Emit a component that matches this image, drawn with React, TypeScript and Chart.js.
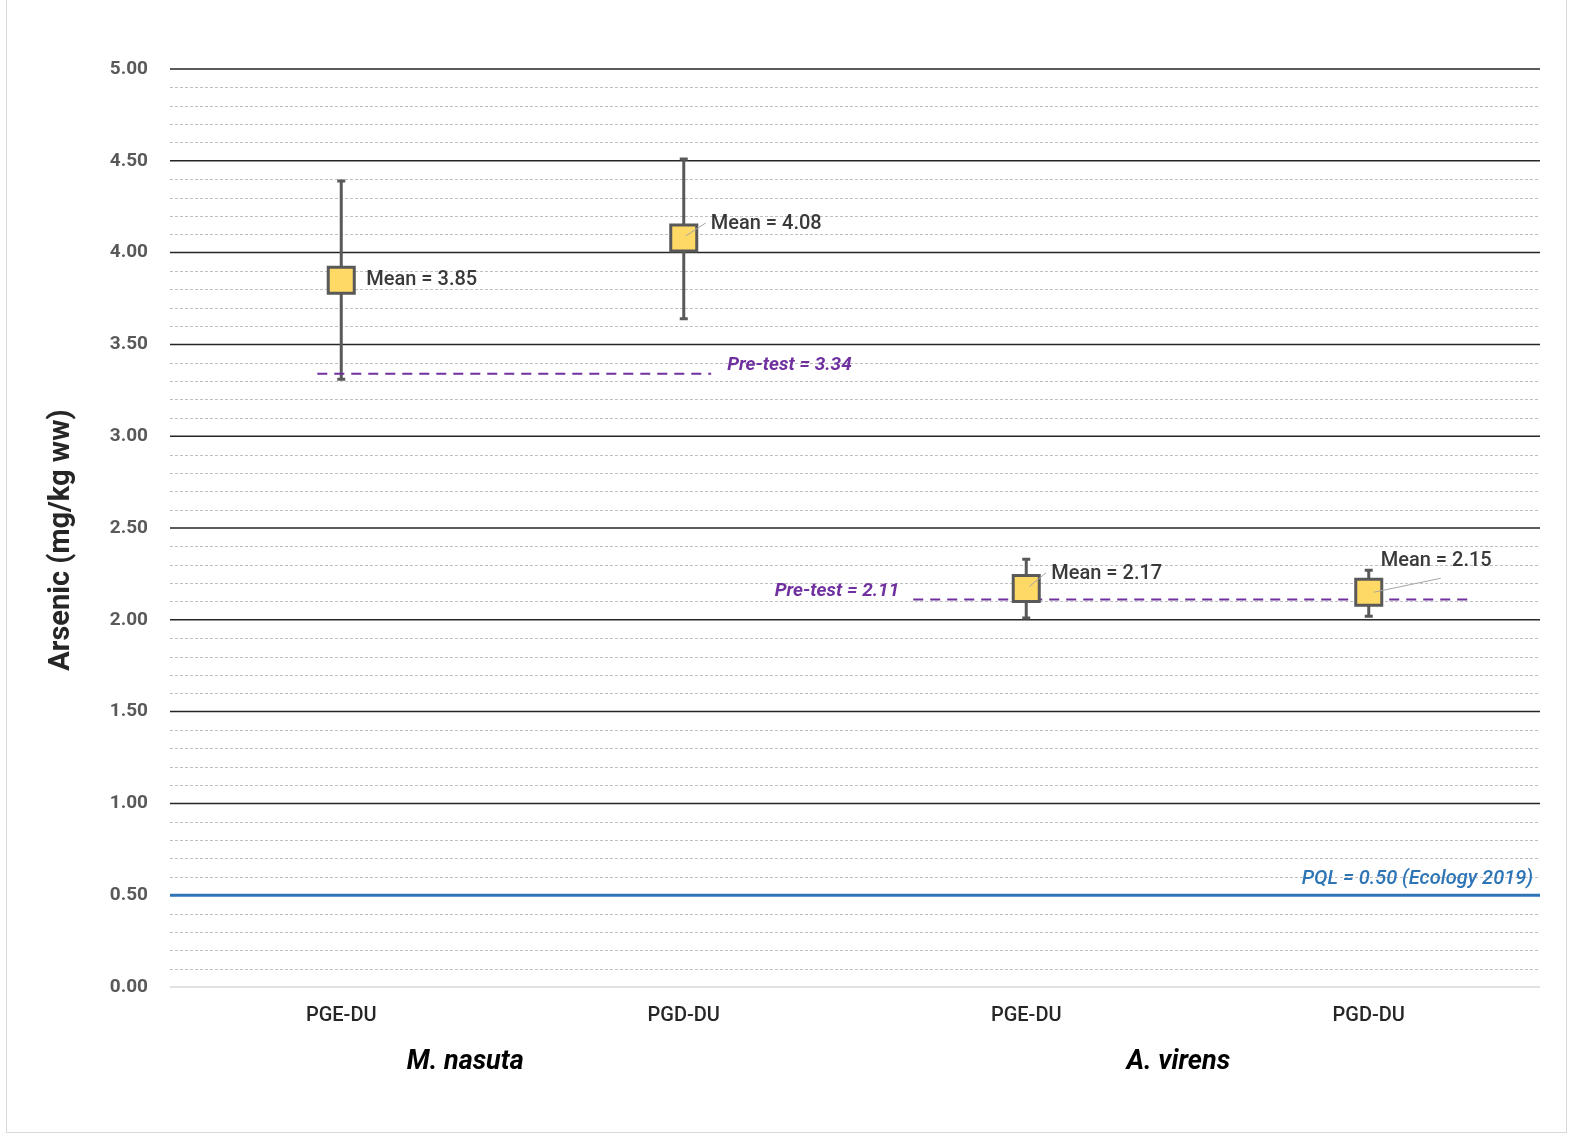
import React, { useEffect, useRef } from "react";
import { Chart, registerables } from "chart.js";

Chart.register(...registerables);

// ---- data ----
const categories = ["PGE-DU", "PGD-DU", "PGE-DU", "PGD-DU"];
const speciesGroups = ["M. nasuta", "A. virens"];
const meanValues = [3.85, 4.08, 2.17, 2.15];
const errorLow = [3.31, 3.64, 2.01, 2.02];
const errorHigh = [4.39, 4.51, 2.33, 2.27];
const pretestValues = [3.34, 2.11];
const pqlValue = 0.5;
const yTickValues = [0, 0.5, 1, 1.5, 2, 2.5, 3, 3.5, 4, 4.5, 5];
const minorStep = 0.1;
const yAxisTitle = "Arsenic (mg/kg ww)";

// ---- layout helpers (category-axis units / pixel offsets) ----
const pretestSpans = [
  [-0.07, 1.08],
  [1.67, 3.29],
];
const speciesLabelX = [0.362, 2.444];
const meanLabelLayout = [
  { dx: 25, dy: 0, leader: null as null | number[][] },
  { dx: 27, dy: -14, leader: [[2, -2], [22, -15]] },
  { dx: 25, dy: -15, leader: [[3, -2], [20, -16]] },
  { dx: 12, dy: -31, leader: [[5, 0], [72, -14]] },
];

const FONT = "Roboto, 'Noto Sans', sans-serif";
const PURPLE = "#7030A0";
const BLUE = "#2E75B6";

const decorPlugin = {
  id: "decor",
  beforeDraw(chart: any) {
    const ctx = chart.ctx;
    ctx.save();
    ctx.fillStyle = "#ffffff";
    ctx.fillRect(0, 0, chart.width, chart.height);
    ctx.strokeStyle = "#d9d9d9";
    ctx.lineWidth = 1;
    ctx.strokeRect(6.5, -1, 1560, 1133.5);
    ctx.restore();
  },
  beforeDatasetsDraw(chart: any) {
    const { ctx, chartArea, scales } = chart;
    const { left, right, top, bottom } = chartArea;
    const y = scales.y;
    const x = scales.x;
    ctx.save();
    // y-axis title
    ctx.fillStyle = "#262626";
    ctx.font = `bold 29px ${FONT}`;
    ctx.textAlign = "center";
    ctx.textBaseline = "middle";
    ctx.translate(62, (top + bottom) / 2 + 12);
    ctx.rotate(-Math.PI / 2);
    ctx.fillText(yAxisTitle, 0, 0);
    ctx.setTransform(1, 0, 0, 1, 0, 0);
    // minor dashed gridlines every 0.1
    ctx.setLineDash([3, 2]);
    ctx.strokeStyle = "#bfbfbf";
    ctx.lineWidth = 1;
    for (let i = 1; i < 50; i++) {
      if (i % 5 === 0) continue;
      const py = Math.round(y.getPixelForValue(i * minorStep)) + 0.5;
      ctx.beginPath();
      ctx.moveTo(left, py);
      ctx.lineTo(right, py);
      ctx.stroke();
    }
    // major gridlines
    ctx.setLineDash([]);
    yTickValues.forEach((v) => {
      const py = y.getPixelForValue(v);
      ctx.strokeStyle = v === 0 ? "#d9d9d9" : "#262626";
      ctx.lineWidth = 1.5;
      ctx.beginPath();
      ctx.moveTo(left, py);
      ctx.lineTo(right, py);
      ctx.stroke();
    });
    // error bars
    ctx.strokeStyle = "#595959";
    ctx.lineWidth = 3;
    meanValues.forEach((_, i) => {
      const px = x.getPixelForValue(i);
      const t = y.getPixelForValue(errorHigh[i]);
      const b = y.getPixelForValue(errorLow[i]);
      ctx.beginPath();
      ctx.moveTo(px, t);
      ctx.lineTo(px, b);
      ctx.moveTo(px - 4, t);
      ctx.lineTo(px + 4, t);
      ctx.moveTo(px - 4, b);
      ctx.lineTo(px + 4, b);
      ctx.stroke();
    });
    ctx.restore();
  },
  afterDatasetsDraw(chart: any) {
    const { ctx, chartArea, scales } = chart;
    const y = scales.y;
    const x = scales.x;
    ctx.save();
    // mean labels with leader lines
    meanValues.forEach((v, i) => {
      const px = x.getPixelForValue(i);
      const py = y.getPixelForValue(v);
      const lay = meanLabelLayout[i];
      if (lay.leader) {
        ctx.strokeStyle = "#a6a6a6";
        ctx.lineWidth = 1;
        ctx.beginPath();
        ctx.moveTo(px + lay.leader[0][0], py + lay.leader[0][1]);
        ctx.lineTo(px + lay.leader[1][0], py + lay.leader[1][1]);
        ctx.stroke();
      }
      ctx.fillStyle = "#3a3a3a";
      ctx.font = `500 20px ${FONT}`;
      ctx.textAlign = "left";
      ctx.textBaseline = "middle";
      ctx.fillText(`Mean = ${v.toFixed(2)}`, px + lay.dx, py + lay.dy);
    });
    // pre-test labels
    ctx.fillStyle = PURPLE;
    ctx.font = `italic bold 19px ${FONT}`;
    ctx.textBaseline = "middle";
    ctx.textAlign = "left";
    ctx.fillText(
      `Pre-test = ${pretestValues[0].toFixed(2)}`,
      x.getPixelForValue(pretestSpans[0][1]) + 16,
      y.getPixelForValue(pretestValues[0]) - 9
    );
    ctx.textAlign = "right";
    ctx.fillText(
      `Pre-test = ${pretestValues[1].toFixed(2)}`,
      x.getPixelForValue(pretestSpans[1][0]) - 14,
      y.getPixelForValue(pretestValues[1]) - 8
    );
    // PQL label
    ctx.fillStyle = BLUE;
    ctx.font = `italic 500 20px ${FONT}`;
    ctx.textAlign = "right";
    ctx.fillText(
      `PQL = ${pqlValue.toFixed(2)} (Ecology 2019)`,
      chartArea.right - 7,
      y.getPixelForValue(pqlValue) - 16
    );
    // species group labels
    ctx.fillStyle = "#000000";
    ctx.font = `italic bold 27px ${FONT}`;
    ctx.textAlign = "center";
    speciesGroups.forEach((g, i) => {
      ctx.fillText(g, x.getPixelForValue(speciesLabelX[i]), chartArea.bottom + 75);
    });
    ctx.restore();
  },
};

export default function App() {
  const canvasRef = useRef<HTMLCanvasElement | null>(null);

  useEffect(() => {
    const canvas = canvasRef.current;
    if (!canvas) return;
    const chart = new Chart(canvas, {
      type: "line",
      data: {
        datasets: [
          {
            label: "Mean",
            data: meanValues.map((v, i) => ({ x: i, y: v })),
            showLine: false,
            pointStyle: "rect",
            pointRadius: 18.4,
            pointBackgroundColor: "#FFD966",
            pointBorderColor: "#595959",
            pointBorderWidth: 3,
            clip: false,
            order: 0,
          } as any,
          ...pretestValues.map((v, k) => ({
            label: `Pre-test ${k}`,
            data: [
              { x: pretestSpans[k][0], y: v },
              { x: pretestSpans[k][1], y: v },
            ],
            borderColor: PURPLE,
            borderWidth: 2,
            borderDash: [10, 7],
            pointRadius: 0,
            order: 2,
          })),
          {
            label: "PQL",
            data: [
              { x: -0.5, y: pqlValue },
              { x: 3.5, y: pqlValue },
            ],
            borderColor: BLUE,
            borderWidth: 3,
            pointRadius: 0,
            order: 3,
          },
        ],
      },
      options: {
        responsive: false,
        animation: false,
        devicePixelRatio: 1,
        layout: { padding: { left: 42, top: 69, right: 34, bottom: 0 } },
        plugins: { legend: { display: false }, tooltip: { enabled: false } },
        scales: {
          x: {
            type: "linear",
            min: -0.5,
            max: 3.5,
            afterBuildTicks: (s: any) => {
              s.ticks = categories.map((_, i) => ({ value: i }));
            },
            afterFit: (s: any) => {
              s.height = 147;
            },
            ticks: {
              callback: (v: any) => categories[v] ?? "",
              color: "#262626",
              font: { family: FONT, size: 20, weight: "500" },
              padding: 17,
              maxRotation: 0,
              autoSkip: false,
            },
            grid: { display: false, drawTicks: false },
            border: { display: false },
          },
          y: {
            type: "linear",
            min: 0,
            max: 5,
            afterBuildTicks: (s: any) => {
              s.ticks = yTickValues.map((v) => ({ value: v }));
            },
            afterFit: (s: any) => {
              s.width = 128;
            },
            ticks: {
              callback: (v: any) => Number(v).toFixed(2),
              color: "#595959",
              font: { family: FONT, size: 19, weight: "bold" },
              padding: 22,
            },
            grid: { display: false, drawTicks: false },
            border: { display: false },
          },
        },
      },
      plugins: [decorPlugin],
    } as any);
    return () => chart.destroy();
  }, []);

  return (
    <div style={{ position: "absolute", left: 0, top: 0, width: 1574, height: 1134, background: "#fff" }}>
      <canvas ref={canvasRef} width={1574} height={1134} style={{ display: "block" }} />
    </div>
  );
}
